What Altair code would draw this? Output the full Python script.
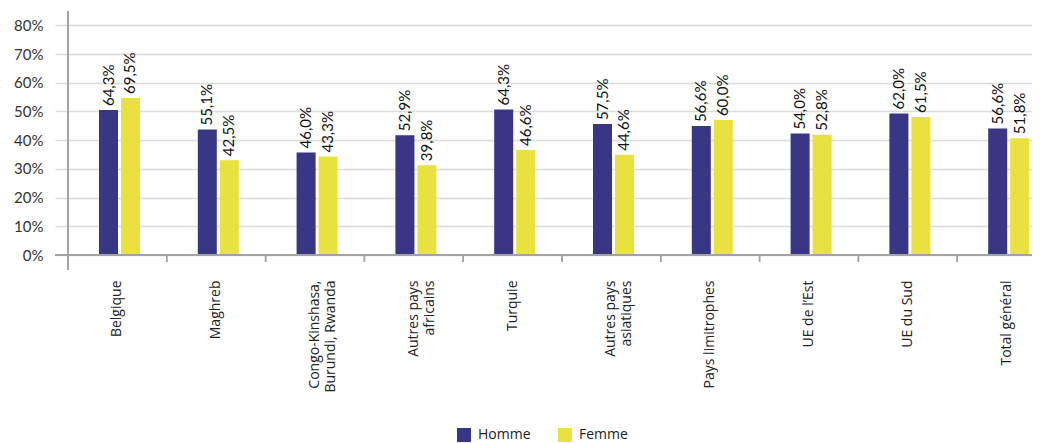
import altair as alt
import pandas as pd

# ---- data ----
cat_lines = [
    ["Belgique"],
    ["Maghreb"],
    ["Congo-Kinshasa,", "Burundi, Rwanda"],
    ["Autres pays", "africains"],
    ["Turquie"],
    ["Autres pays", "asiatiques"],
    ["Pays limitrophes"],
    ["UE de l\u2019Est"],
    ["UE du Sud"],
    ["Total général"],
]
categories = [" ".join(l) for l in cat_lines]
genres = ["Homme", "Femme"]

# drawn bar heights (%)
homme_bar = [50.5, 43.7, 35.7, 41.7, 50.7, 45.6, 44.9, 42.3, 49.3, 44.1]
femme_bar = [54.7, 33.0, 34.3, 31.3, 36.6, 34.9, 47.0, 41.9, 48.1, 40.7]
# printed labels
homme_label = ["64,3%", "55,1%", "46,0%", "52,9%", "64,3%", "57,5%", "56,6%", "54,0%", "62,0%", "56,6%"]
femme_label = ["69,5%", "42,5%", "43,3%", "39,8%", "46,6%", "44,6%", "60,0%", "52,8%", "61,5%", "51,8%"]
y_ticks = [0, 10, 20, 30, 40, 50, 60, 70, 80]

rows = []
for i, c in enumerate(categories):
    rows.append({"cat": c, "genre": "Homme", "val": homme_bar[i], "lab": homme_label[i]})
    rows.append({"cat": c, "genre": "Femme", "val": femme_bar[i], "lab": femme_label[i]})
df = pd.DataFrame(rows)

# multi-line label expression
expr = "datum.value"
for c, lines in zip(categories, cat_lines):
    if len(lines) > 1:
        arr = "[" + ", ".join("'" + s + "'" for s in lines) + "]"
        expr = f"datum.value == '{c}' ? {arr} : (" + expr + ")"

W, H = 964, 244
BLUE, YELLOW = "#3a3686", "#e8e140"
GRID = "#dcdcdc"
AXIS = "#a3a3a3"

xscale = alt.Scale(domain=categories, range=[0, 988], paddingInner=0, paddingOuter=0)
xaxis = alt.Axis(title=None, ticks=False, domain=False, labelAngle=270,
                 labelAlign="right", labelBaseline="middle", labelPadding=25,
                 labelFontSize=14, labelFont="Open Sans", labelColor="#222",
                 labelLineHeight=16, labelLimit=300, labelExpr=expr)
x = alt.X("cat:N", sort=categories, scale=xscale, axis=xaxis)
xo = alt.XOffset("genre:N", sort=genres, scale=alt.Scale(range=[31, 72], paddingInner=0.136, paddingOuter=0))
y = alt.Y("val:Q", scale=alt.Scale(domain=[0, 85], nice=False, zero=True),
          axis=alt.Axis(title=None, values=y_ticks, labelExpr="datum.value + '%'",
                        domain=False, tickSize=13, tickColor=GRID, tickWidth=1.5,
                        gridColor=GRID, gridWidth=1.5, labelPadding=12,
                        labelFontSize=15, labelFont="Lato", labelColor="#333"))
color = alt.Color("genre:N", sort=genres,
                  scale=alt.Scale(domain=genres, range=[BLUE, YELLOW]),
                  legend=alt.Legend(orient="none", legendX=389, legendY=417,
                                    direction="horizontal", title=None,
                                    symbolType="square", symbolSize=196,
                                    symbolStrokeWidth=0, symbolOpacity=1,
                                    labelFontSize=14, labelFont="Open Sans",
                                    labelColor="#222", columnPadding=27, labelOffset=7))

base = alt.Chart(df)
bars = base.mark_bar().encode(x=x, xOffset=xo, y=y, color=color)
labels = base.mark_text(angle=270, align="left", baseline="middle", dx=4,
                        fontSize=15, font="Lato", color="#111").encode(
    x=x, xOffset=xo, y=y, text="lab:N")
ticks = base.mark_rule(color=AXIS, strokeWidth=1.5).encode(
    x=alt.X("cat:N", sort=categories, scale=xscale, bandPosition=0, axis=xaxis),
    y=alt.value(H), y2=alt.value(H + 7))
xline = base.mark_rule(color=AXIS, strokeWidth=1.5).encode(
    x=alt.value(-13), x2=alt.value(1000), y=alt.value(H))
yline = base.mark_rule(color=AXIS, strokeWidth=1.5).encode(
    x=alt.value(0), y=alt.value(0), y2=alt.value(H + 15))

chart = alt.layer(bars, labels, ticks, xline, yline).properties(
    width=W, height=H,
    autosize=alt.AutoSizeParams(type="none"),
    padding={"left": 60, "top": 3, "right": 0, "bottom": 187},
    background="white",
).configure_view(stroke=None)

chart.save("out.html", embed_options={"renderer": "svg", "actions": False})
